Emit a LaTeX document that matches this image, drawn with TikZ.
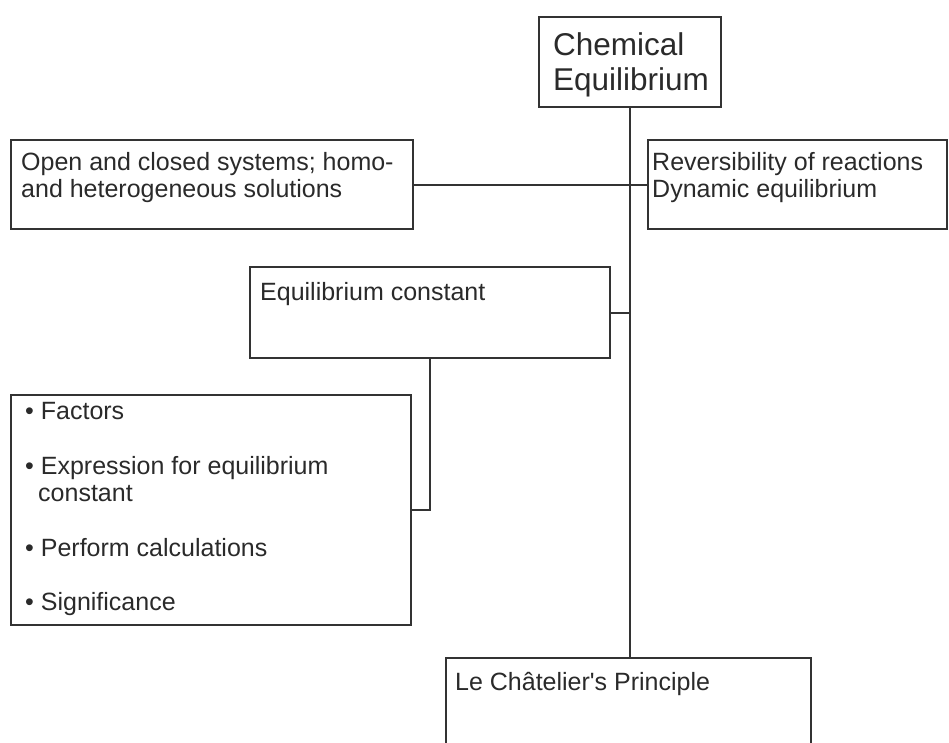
\documentclass[tikz,border=0pt]{standalone}
\usepackage{fontspec}
\setmainfont{Liberation Sans}
\usetikzlibrary{positioning}
\definecolor{lineGray}{HTML}{333333}
\definecolor{inkGray}{HTML}{2A2A2A}
\tikzset{
  box/.style={draw=lineGray,line width=1.7pt,anchor=north west,inner sep=0pt,outer sep=0pt},
  boxtext/.style={anchor=base west,inner sep=0pt,align=left,text=inkGray,
    font=\fontsize{25}{27}\selectfont},
  link/.style={draw=lineGray,line width=2pt}
}
\begin{document}
\begin{tikzpicture}[x=1pt,y=-1pt]
  \useasboundingbox (0,0) rectangle (949,742);
  \clip (0,0) rectangle (949,742);
  % boxes: name/left/top/width/height
  \foreach \nm/\x/\y/\w/\h in {
    chem/539/17/182/90,
    open/11/140/402/89,
    rev/648/140/299/89,
    eqc/250/267/360/91,
    fac/11/395/400/230,
    lcp/446/658/365/120}
  {
    \node[box,minimum width=\w,minimum height=\h] (\nm) at (\x,\y) {};
  }
  % texts (base = last line)
  \node[boxtext,font=\fontsize{31.5}{35}\selectfont] (chemtxt)
    at ([shift={(14,73)}]chem.north west) {Chemical\\Equilibrium};
  \node[boxtext] (opentxt) at ([shift={(10,57)}]open.north west)
    {Open and closed systems; homo-\\and heterogeneous solutions};
  \node[boxtext] (revtxt) at ([shift={(4,57)}]rev.north west)
    {Reversibility of reactions\\Dynamic equilibrium};
  \node[boxtext] (eqctxt) at ([shift={(10,33)}]eqc.north west)
    {Equilibrium constant};
  \node[boxtext] (factxt) at ([shift={(14,215)}]fac.north west)
    {• Factors\\[28pt]
     • Expression for equilibrium\\
     \hspace*{13pt}constant\\[28pt]
     • Perform calculations\\[27pt]
     • Significance};
  \node[boxtext] (lcptxt) at ([shift={(9,32)}]lcp.north west)
    {Le Châtelier\textquotesingle s Principle};
  % connectors
  \draw[link] (chem.south) -- (chem.south |- lcp.north);
  \draw[link] (open.east) -- (rev.west);
  \draw[link] (eqc.east) -- (eqc.east -| chem.south);
  \draw[link] (eqc.south) |- (fac.east);
\end{tikzpicture}
\end{document}
